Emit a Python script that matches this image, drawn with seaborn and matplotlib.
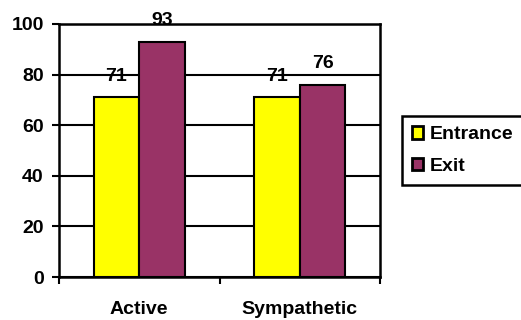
import pandas as pd
import seaborn as sns
import matplotlib.pyplot as plt

groups = ['Active', 'Sympathetic']
entrance = [71, 71]
exit_vals = [93, 76]
series = ['Entrance', 'Exit']
colors = ['#FFFF00', '#993366']

df = pd.DataFrame({
    'group': groups * 2,
    'series': [series[0]] * 2 + [series[1]] * 2,
    'value': entrance + exit_vals,
})

sns.set_style('white')
plt.rcParams['font.family'] = ['Liberation Sans', 'DejaVu Sans']
plt.rcParams['font.weight'] = 'bold'
plt.rcParams['text.color'] = 'black'
plt.rcParams['xtick.color'] = 'black'
plt.rcParams['ytick.color'] = 'black'
fs = 14

fig = plt.figure(figsize=(5.21, 3.2), dpi=100)
ax = fig.add_axes([59 / 521, 1 - 277 / 320, 321 / 521, 253 / 320])

sns.barplot(data=df, x='group', y='value', hue='series', palette=colors,
            saturation=1, width=0.57, edgecolor='black', linewidth=1.5,
            ax=ax, zorder=3)

ax.set_ylim(0, 100)
ax.set_yticks(range(0, 101, 20))
ax.yaxis.grid(True, color='black', linewidth=1.5, zorder=0)
ax.set_axisbelow(True)
ax.set_xlim(-0.5, 1.5)
ax.set_xlabel('')
ax.set_ylabel('')

for s in ax.spines.values():
    s.set_color('black')
    s.set_linewidth(1.8)
    s.set_visible(True)

ax.tick_params(axis='y', which='major', left=True, length=5, width=1.5,
               labelsize=fs, pad=6, color='black', labelcolor='black')
ax.tick_params(axis='x', which='major', bottom=False, labelsize=fs, pad=14,
               labelcolor='black')
ax.set_xticks([-0.5, 0.5, 1.5], minor=True)
ax.tick_params(axis='x', which='minor', bottom=True, length=5, width=1.5, color='black')
for lbl in ax.get_xticklabels() + ax.get_yticklabels():
    lbl.set_fontweight('bold')

for c in ax.containers:
    ax.bar_label(c, fmt='%d', padding=9, fontsize=fs, fontweight='bold', color='black')

handles, labels = ax.get_legend_handles_labels()
for h in handles:
    h.set_linewidth(2)
leg = ax.legend(handles, labels, loc='center left', bbox_to_anchor=(343 / 321, 0.5),
                frameon=True, fancybox=False, edgecolor='black', framealpha=1,
                handlelength=0.6, handleheight=0.6, handletextpad=0.35,
                labelspacing=0.75, borderpad=0.5, borderaxespad=0,
                prop={'weight': 'bold', 'size': fs})
leg.get_frame().set_linewidth(1.8)
for t in leg.get_texts():
    t.set_color('black')

fig.savefig('out.png', dpi=100)
